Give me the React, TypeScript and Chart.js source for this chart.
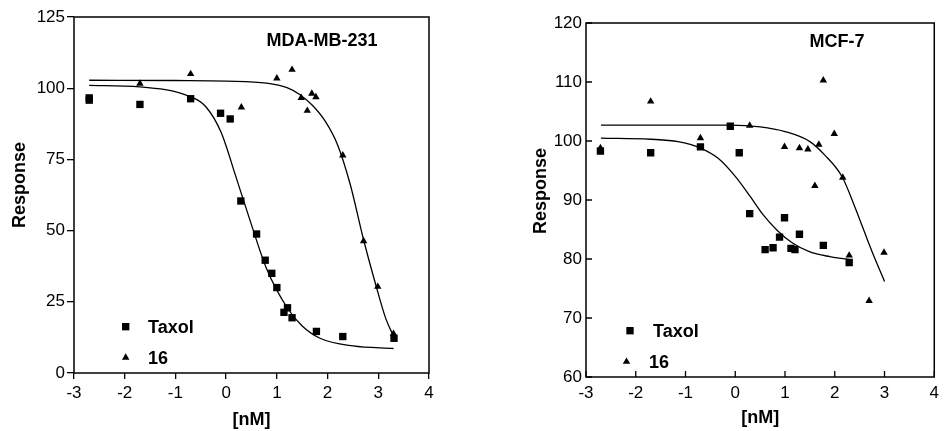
import React, { useEffect, useRef } from 'react';
import { Chart, registerables } from 'chart.js';

Chart.register(...registerables);

const FONT = '"Liberation Sans", Arial, Helvetica, sans-serif';

// ---------- Left panel: MDA-MB-231 ----------
const mdaTaxolX = [-2.7, -2.7, -1.7, -0.7, -0.11, 0.08, 0.29, 0.6, 0.77, 0.9, 1.0, 1.14, 1.21, 1.3, 1.78, 2.3, 3.31];
const mdaTaxolY = [96.6, 95.8, 94.3, 96.3, 91.2, 89.2, 60.4, 48.8, 39.6, 35.0, 30.0, 21.3, 22.9, 19.4, 14.6, 12.8, 12.2];
const mda16X = [-1.7, -0.7, 0.3, 1.0, 1.3, 1.48, 1.6, 1.69, 1.77, 2.3, 2.71, 2.99, 3.3];
const mda16Y = [101.6, 105.0, 93.3, 103.5, 106.5, 96.6, 92.1, 98.1, 96.9, 76.4, 46.3, 30.3, 13.8];
// fitted curves
const mdaTaxolFitX = [-2.7, -1.7, -0.7, -0.4, -0.1, 0.2, 0.5, 0.8, 1.2, 1.5, 1.85, 2.5, 3.3];
const mdaTaxolFitY = [101, 100.5, 97, 93.5, 84.5, 68.5, 52, 36.5, 23, 16.5, 12.2, 9.5, 8.6];
const mda16FitX = [-2.7, -1.0, 0.0, 0.8, 1.2, 1.45, 1.7, 1.95, 2.2, 2.45, 2.7, 2.95, 3.15, 3.3];
const mda16FitY = [102.8, 102.7, 102.5, 101.8, 100.2, 97.8, 94, 88.5, 80, 66, 47.5, 31, 19, 13];
const mdaYTicks = [0, 125, 25];

// ---------- Right panel: MCF-7 ----------
const mcfTaxolX = [-2.71, -1.7, -0.7, -0.1, 0.08, 0.29, 0.6, 0.76, 0.89, 0.99, 1.12, 1.2, 1.29, 1.77, 2.29];
const mcfTaxolY = [98.3, 98.0, 99.0, 102.5, 98.0, 87.7, 81.6, 81.9, 83.7, 87.0, 81.8, 81.6, 84.2, 82.3, 79.4];
const mcf16X = [-2.71, -1.7, -0.7, 0.29, 0.99, 1.29, 1.46, 1.6, 1.68, 1.77, 1.99, 2.16, 2.29, 2.69, 2.99];
const mcf16Y = [98.8, 106.7, 100.5, 102.6, 99.0, 98.8, 98.6, 92.4, 99.4, 110.3, 101.2, 93.8, 80.6, 72.9, 81.1];
const mcfTaxolFitX = [-2.7, -1.7, -1.15, -0.7, -0.35, 0, 0.3, 0.55, 0.85, 1.15, 1.5, 1.9, 2.3];
const mcfTaxolFitY = [100.5, 100.3, 99.9, 98.8, 97.1, 94.0, 90.6, 87.6, 84.8, 82.7, 81.2, 80.4, 79.9];
const mcf16FitX = [-2.7, -1.2, -0.1, 0.5, 1.0, 1.5, 1.8, 2.15, 2.4, 2.65, 2.8, 3.0];
const mcf16FitY = [102.7, 102.7, 102.7, 102.4, 101.6, 99.9, 97.6, 93.9, 88.9, 83.4, 80.2, 76.2];
const mcfYTicks = [60, 120, 10];

const xTicks = [-3, 4, 1];
const seriesNames = ['Taxol', '16'];
const panelTitles = ['MDA-MB-231', 'MCF-7'];
const xTitle = '[nM]';
const yTitle = 'Response';

const pts = (xs: number[], ys: number[]) => xs.map((x, i) => ({ x, y: ys[i] }));

const overlayPlugin = {
  id: 'overlay',
  afterDraw(chart: any, _args: any, o: any) {
    const { ctx, chartArea: a, scales } = chart;
    ctx.save();
    ctx.strokeStyle = '#000';
    ctx.lineWidth = o.frameWidth;
    ctx.strokeRect(a.left, a.top, a.right - a.left, a.bottom - a.top);
    if (o.inwardTicks) {
      ctx.lineWidth = 1.3;
      ctx.beginPath();
      scales.x.ticks.forEach((t: any) => {
        const px = scales.x.getPixelForValue(t.value);
        ctx.moveTo(px, a.bottom);
        ctx.lineTo(px, a.bottom - o.tickLen);
      });
      scales.y.ticks.forEach((t: any) => {
        const py = scales.y.getPixelForValue(t.value);
        ctx.moveTo(a.left, py);
        ctx.lineTo(a.left + o.tickLen, py);
      });
      ctx.stroke();
    }
    ctx.fillStyle = '#000';
    ctx.font = `bold 18px ${FONT}`;
    ctx.textAlign = 'center';
    ctx.textBaseline = 'alphabetic';
    ctx.fillText(o.title, o.titleX, o.titleY);
    ctx.save();
    ctx.translate(o.yTitleX, o.yTitleY);
    ctx.rotate(-Math.PI / 2);
    ctx.textBaseline = 'middle';
    ctx.fillText(o.yTitle, 0, 0);
    ctx.restore();
    // legend
    const items = chart.data.datasets.filter((d: any) => d.label);
    items.forEach((d: any, i: number) => {
      const mx = o.legend.markerX[i];
      const my = o.legend.rowY[i];
      const r = d.pointRadius;
      ctx.beginPath();
      if (d.pointStyle === 'rect') {
        const s = r * Math.SQRT1_2;
        ctx.rect(mx - s, my - s, 2 * s, 2 * s);
      } else {
        ctx.moveTo(mx, my - r);
        ctx.lineTo(mx + r * 0.866, my + r * 0.5);
        ctx.lineTo(mx - r * 0.866, my + r * 0.5);
        ctx.closePath();
      }
      ctx.fill();
      ctx.textAlign = 'left';
      ctx.textBaseline = 'alphabetic';
      ctx.font = `bold 18px ${FONT}`;
      ctx.fillText(d.label, o.legend.textX[i], my + 6.4);
    });
    ctx.restore();
  },
};

function makeConfig(p: any) {
  const curve = (xs: number[], ys: number[]) => ({
    data: pts(xs, ys),
    showLine: true,
    pointRadius: 0,
    borderColor: '#000',
    borderWidth: 1.3,
    cubicInterpolationMode: 'monotone',
    fill: false,
  });
  const marks = (label: string, xs: number[], ys: number[], style: string, r: number) => ({
    label,
    data: pts(xs, ys),
    showLine: false,
    pointStyle: style,
    pointRadius: r,
    pointBackgroundColor: '#000',
    pointBorderWidth: 0,
    backgroundColor: '#000',
    borderColor: '#000',
  });
  const tickFont = { family: FONT, size: 17 };
  return {
    type: 'scatter',
    data: {
      datasets: [
        curve(p.fitA[0], p.fitA[1]),
        curve(p.fitB[0], p.fitB[1]),
        marks(seriesNames[0], p.a[0], p.a[1], 'rect', 5.2),
        marks(seriesNames[1], p.b[0], p.b[1], 'triangle', 4.3),
      ],
    },
    options: {
      animation: false,
      responsive: false,
      events: [],
      layout: { padding: p.padding },
      plugins: {
        legend: { display: false },
        tooltip: { enabled: false },
        overlay: p.overlay,
      },
      scales: {
        x: {
          type: 'linear',
          min: xTicks[0],
          max: xTicks[1],
          ticks: { stepSize: xTicks[2], color: '#000', font: tickFont, padding: p.xPad, maxRotation: 0 },
          grid: p.inward
            ? { display: false, drawTicks: false }
            : { display: true, drawOnChartArea: false, drawTicks: true, tickLength: 6, color: '#000', lineWidth: 1.3 },
          border: { display: false },
          title: { display: true, text: xTitle, color: '#000', font: { family: FONT, size: 18, weight: 'bold' }, padding: { top: 0, bottom: p.xTitlePad } },
          afterFit: (s: any) => { s.height = p.xHeight; },
        },
        y: {
          type: 'linear',
          min: p.yTicks[0],
          max: p.yTicks[1],
          ticks: { stepSize: p.yTicks[2], color: '#000', font: tickFont, padding: p.yPad },
          grid: p.inward
            ? { display: false, drawTicks: false }
            : { display: true, drawOnChartArea: false, drawTicks: true, tickLength: 7, color: '#000', lineWidth: 1.3 },
          border: { display: false },
          afterFit: (s: any) => { s.width = p.yWidth; },
        },
      },
    },
    plugins: [overlayPlugin],
  };
}

function Panel({ cfg, left }: { cfg: any; left: number }) {
  const ref = useRef<HTMLCanvasElement | null>(null);
  useEffect(() => {
    const chart = new Chart(ref.current as HTMLCanvasElement, makeConfig(cfg) as any);
    return () => chart.destroy();
  }, []);
  return (
    <div style={{ position: 'absolute', left, top: 0, width: 470, height: 431 }}>
      <canvas ref={ref} width={470} height={431} style={{ width: 470, height: 431, display: 'block' }} />
    </div>
  );
}

const leftCfg = {
  a: [mdaTaxolX, mdaTaxolY],
  b: [mda16X, mda16Y],
  fitA: [mdaTaxolFitX, mdaTaxolFitY],
  fitB: [mda16FitX, mda16FitY],
  yTicks: mdaYTicks,
  inward: false,
  padding: { left: 0, right: 41, top: 17, bottom: 0 },
  yWidth: 74,
  xHeight: 58,
  xPad: 4,
  yPad: 2,
  xTitlePad: 0,
  overlay: {
    frameWidth: 1.5,
    inwardTicks: false,
    tickLen: 6,
    title: panelTitles[0],
    titleX: 322,
    titleY: 45.5,
    yTitle,
    yTitleX: 20,
    yTitleY: 185,
    legend: { markerX: [125.7, 125.7], rowY: [326.7, 357.5], textX: [148, 148] },
  },
};

const rightCfg = {
  a: [mcfTaxolX, mcfTaxolY],
  b: [mcf16X, mcf16Y],
  fitA: [mcfTaxolFitX, mcfTaxolFitY],
  fitB: [mcf16FitX, mcf16FitY],
  yTicks: mcfYTicks,
  inward: true,
  padding: { left: 0, right: 4, top: 23, bottom: 0 },
  yWidth: 111,
  xHeight: 54,
  xPad: 6,
  yPad: 4,
  xTitlePad: 2,
  overlay: {
    frameWidth: 1.5,
    inwardTicks: true,
    tickLen: 6,
    title: panelTitles[1],
    titleX: 362,
    titleY: 46.5,
    yTitle,
    yTitleX: 66,
    yTitleY: 191,
    legend: { markerX: [155, 151.5], rowY: [330.7, 361.7], textX: [178, 174] },
  },
};

export default function App() {
  return (
    <div style={{ position: 'absolute', left: 0, top: 0, width: 945, height: 431, background: '#fff' }}>
      <Panel cfg={leftCfg} left={0} />
      <Panel cfg={rightCfg} left={475} />
    </div>
  );
}
